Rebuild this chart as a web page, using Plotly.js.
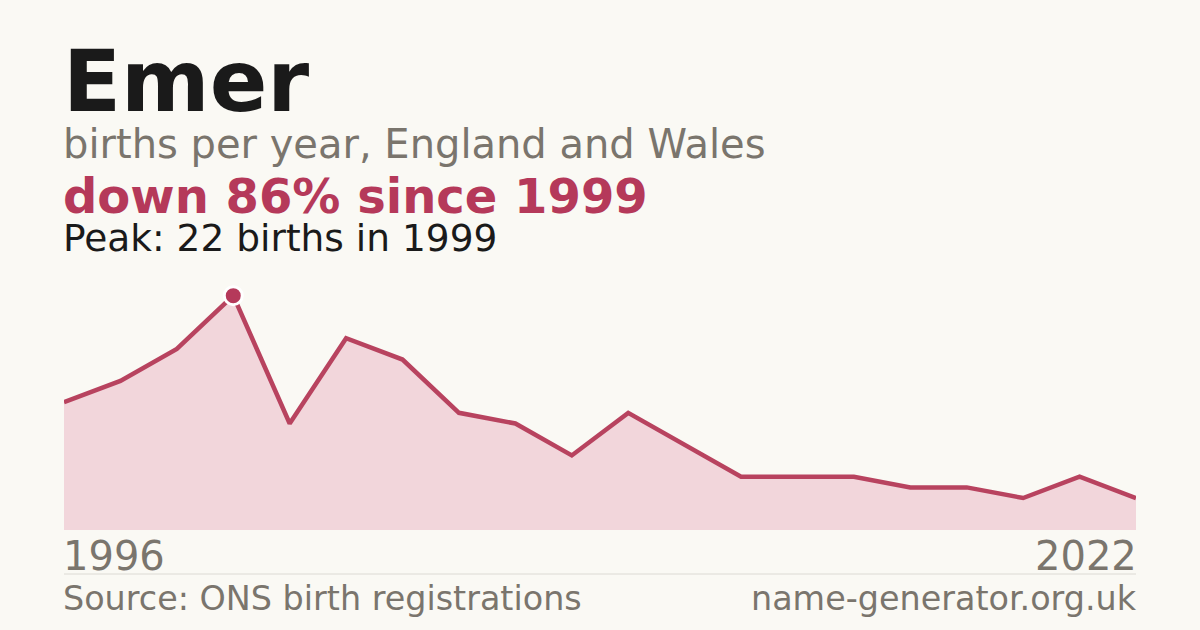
<!DOCTYPE html>
<html>
<head>
<meta charset="utf-8">
<script src="https://cdn.plot.ly/plotly-3.0.1.min.js"></script>
<style>
  html, body { margin: 0; padding: 0; background: #faf9f4; }
  #chart { width: 1200px; height: 630px; }
</style>
</head>
<body>
<div id="chart"></div>
<script>
// years shown in the series (years with too few births are left out)
var years = [1996, 1997, 1998, 1999, 2000, 2001, 2002, 2003, 2004, 2005,
             2006, 2007, 2009, 2011, 2013, 2016, 2018, 2020, 2021, 2022];
var births = [12, 14, 17, 22, 10, 18, 16, 11, 10, 7,
              11, 8, 5, 5, 5, 4, 4, 3, 5, 3];
var peakYear = 1999;
var peakValue = 22;

var red = '#b5395a';
var grey = '#7a756d';
var font = 'DejaVu Sans, sans-serif';

var area = {
    x: years,
    y: births,
    type: 'scatter',
    mode: 'lines',
    line: { color: '#b8435f', width: 4.5 },
    fill: 'tozeroy',
    fillcolor: '#f2d6db',
    hoverinfo: 'skip'
};

var peak = {
    x: [peakYear],
    y: [peakValue],
    type: 'scatter',
    mode: 'markers',
    marker: { size: 18, color: red, line: { color: '#ffffff', width: 3 } },
    hoverinfo: 'skip'
};

function note(text, x, y, size, color, bold, anchor) {
    var right = anchor === 'right';
    return {
        text: bold ? '<b>' + text + '</b>' : text,
        xref: 'paper', yref: 'paper',
        x: x, y: y,
        xanchor: anchor || 'left', yanchor: 'middle',
        xshift: right ? 2 : -2,
        borderpad: 0,
        showarrow: false,
        font: { family: font, size: size, color: color }
    };
}

var layout = {
    width: 1200,
    height: 630,
    paper_bgcolor: '#faf9f4',
    plot_bgcolor: '#faf9f4',
    showlegend: false,
    margin: { l: 64, r: 64, t: 285, b: 100 },
    xaxis: {
        type: 'category',
        range: [0, years.length - 1],
        showgrid: false, zeroline: false, showticklabels: false, showline: false
    },
    yaxis: {
        range: [0, 23],
        showgrid: false, zeroline: false, showticklabels: false, showline: false
    },
    shapes: [{
        type: 'line', xref: 'paper', yref: 'paper',
        x0: 0, x1: 1, y0: -0.1796, y1: -0.1796,
        line: { color: '#dcdad4', width: 1 }
    }],
    annotations: [
        note('Emer', 0, 1.83, 85, '#1a1a1a', true),
        note('births per year, England and Wales', 0, 1.574, 40, grey, false),
        note('down 86% since 1999', 0, 1.362, 48, red, true),
        note('Peak: 22 births in 1999', 0, 1.19, 37.5, '#1a1a1a', false),
        note(String(years[0]), 0, -0.106, 40, grey, false),
        note(String(years[years.length - 1]), 1, -0.106, 40, grey, false, 'right'),
        note('Source: ONS birth registrations', 0, -0.28, 33.4, grey, false),
        note('name-generator.org.uk', 1, -0.28, 33.4, grey, false, 'right')
    ]
};

Plotly.newPlot('chart', [area, peak], layout, { staticPlot: true });
</script>
</body>
</html>
